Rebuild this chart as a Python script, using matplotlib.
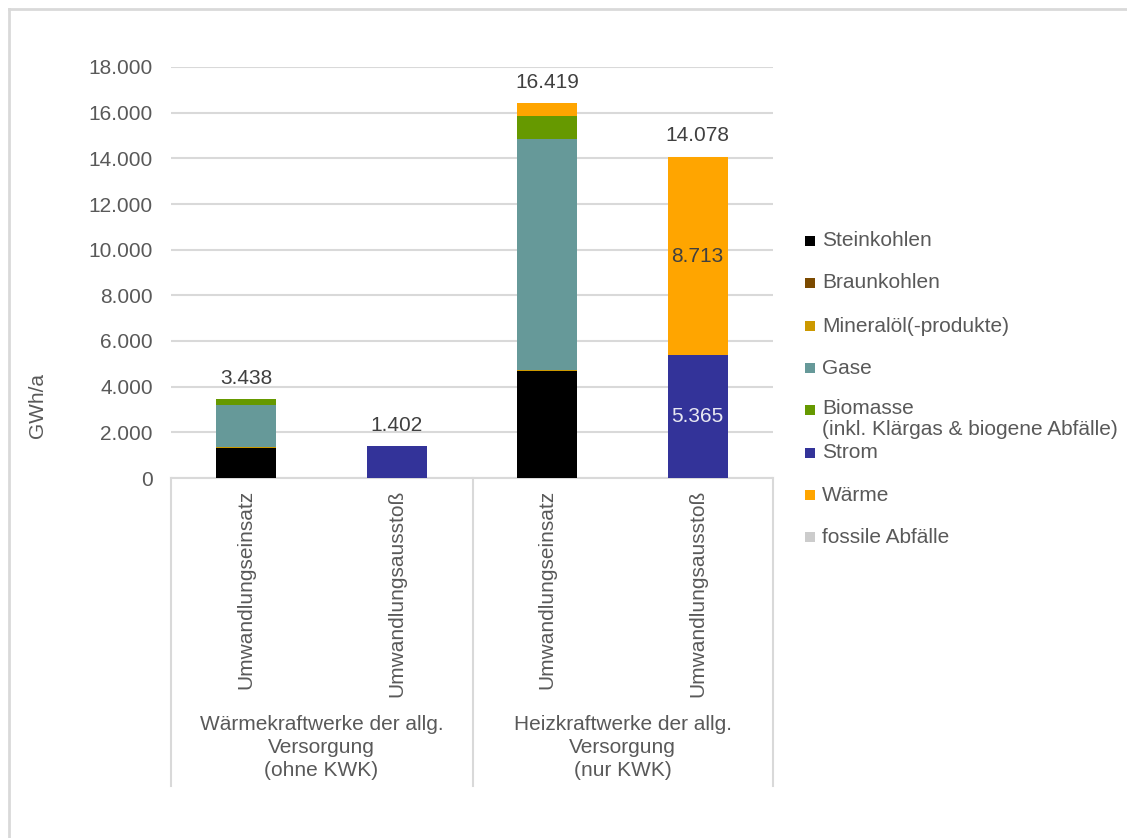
import numpy as np
import matplotlib.pyplot as plt
from matplotlib.lines import Line2D
from matplotlib.patches import Rectangle

plt.rcParams['font.family'] = ['Liberation Sans', 'DejaVu Sans']

# bars: (group, sub-category)
tick_labels = ['Umwandlungseinsatz', 'Umwandlungsausstoß',
               'Umwandlungseinsatz', 'Umwandlungsausstoß']
group_labels = ['Wärmekraftwerke der allg.\nVersorgung\n(ohne KWK)',
                'Heizkraftwerke der allg.\nVersorgung\n(nur KWK)']

series_names = ['Steinkohlen', 'Braunkohlen', 'Mineralöl(-produkte)', 'Gase',
                'Biomasse\n(inkl. Klärgas & biogene Abfälle)', 'Strom', 'Wärme',
                'fossile Abfälle']
steinkohlen = [1330, 0, 4700, 0]
braunkohlen = [0, 0, 0, 0]
mineraloel = [25, 0, 40, 0]
gase = [1830, 0, 10120, 0]
biomasse = [253, 0, 990, 0]
strom = [0, 1402, 0, 5365]
waerme = [0, 0, 569, 8713]
fossile_abfaelle = [0, 0, 0, 0]

colors = ['#000000', '#7b4a00', '#cc9900', '#669999', '#669900',
          '#333399', '#ffa500', '#cccccc']

series = [steinkohlen, braunkohlen, mineraloel, gase, biomasse,
          strom, waerme, fossile_abfaelle]

W, H = 1127, 838
fig = plt.figure(figsize=(W / 100, H / 100), dpi=100)


def fx(x):
    return x / W


def fy(y):
    return 1 - y / H


grey = '#595959'
fs = 15

ax = fig.add_axes([fx(171), fy(478), fx(773) - fx(171), fy(67) - fy(478)])
x = np.arange(len(tick_labels))
bottom = np.zeros(len(x))
for vals, c in zip(series, colors):
    vals = np.array(vals, dtype=float)
    ax.bar(x, vals, 0.4, bottom=bottom, color=c, zorder=3)
    bottom += vals

ax.set_xlim(-0.5, 3.5)
ax.set_ylim(0, 18000)
ax.set_yticks(np.arange(0, 18001, 2000))
ax.set_yticklabels([f'{v:,}'.replace(',', '.') for v in range(0, 18001, 2000)])
ax.tick_params(axis='y', length=0, pad=13, labelsize=fs, labelcolor=grey)
ax.set_xticks([])
ax.grid(axis='y', color='#d9d9d9', linewidth=1.5, zorder=0)
for s in ['top', 'right', 'left']:
    ax.spines[s].set_visible(False)
ax.spines['bottom'].set_color('#d9d9d9')
ax.spines['bottom'].set_linewidth(1.5)

# totals above bars
for xi, tot in zip(x, bottom):
    ax.annotate(f'{int(tot):,}'.replace(',', '.'), (xi, tot), xytext=(0, 15),
                textcoords='offset points', ha='center', va='center',
                fontsize=fs, color='#404040')

# values inside the output bar of the CHP plants
ax.text(3, strom[3] + waerme[3] / 2, f'{waerme[3]:,}'.replace(',', '.'),
        ha='center', va='center', fontsize=fs, color='#404040', zorder=4)
ax.text(3, strom[3] / 2, f'{strom[3]:,}'.replace(',', '.'),
        ha='center', va='center', fontsize=fs, color='#e8e8f2', zorder=4)

fig.text(fx(37), fy(405), 'GWh/a', rotation=90, ha='center', va='center',
         fontsize=fs, color=grey)

# two-level category axis
for px in [171, 473, 773]:
    fig.add_artist(Line2D([fx(px), fx(px)], [fy(478), fy(786)],
                          color='#d9d9d9', linewidth=1.5))
for xi, lab in zip(x, tick_labels):
    xp = ax.transData.transform((xi, 0))[0]
    fig.text(xp / W, fy(490), lab, rotation=90, ha='center', va='top',
             fontsize=fs, color=grey)
for gi, lab in enumerate(group_labels):
    xp = ax.transData.transform((2 * gi + 0.5, 0))[0]
    fig.text(xp / W, fy(715), lab, ha='center', va='top', fontsize=fs,
             color=grey, linespacing=1.27)

# legend
legend_y = [241, 283, 326, 368, 410, 453, 495, 537]
for name, c, ly in zip(series_names, colors, legend_y):
    fig.add_artist(Rectangle((fx(805), fy(ly + 5)), fx(10), 10 / H,
                             facecolor=c, edgecolor='none'))
    if '\n' in name:
        fig.text(fx(822), fy(ly - 11), name, ha='left', va='top',
                 fontsize=fs, color=grey, linespacing=1.15)
    else:
        fig.text(fx(822), fy(ly), name, ha='left', va='center',
                 fontsize=fs, color=grey)

# outer frame
fig.add_artist(Line2D([fx(9), fx(9)], [fy(9), 0], color='#d9d9d9', linewidth=2))
fig.add_artist(Line2D([fx(9), 1], [fy(9), fy(9)], color='#d9d9d9', linewidth=2))

fig.savefig('out.png', dpi=100)
